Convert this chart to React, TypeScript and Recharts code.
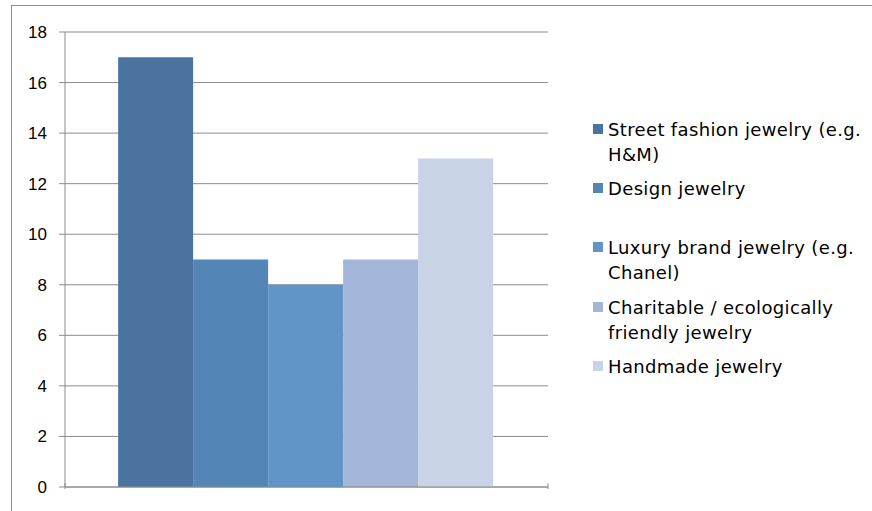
import React from 'react';
import { BarChart, Bar, XAxis, YAxis, CartesianGrid } from 'recharts';

const categories = ['Jewelry'];
const seriesNames = [
  'Street fashion jewelry (e.g. H&M)',
  'Design jewelry',
  'Luxury brand jewelry (e.g. Chanel)',
  'Charitable / ecologically friendly jewelry',
  'Handmade jewelry',
];
const seriesValues = [17, 9, 8, 9, 13];
const legendLines = [
  ['Street fashion jewelry (e.g.', 'H&M)'],
  ['Design jewelry'],
  ['Luxury brand jewelry (e.g.', 'Chanel)'],
  ['Charitable / ecologically', 'friendly jewelry'],
  ['Handmade jewelry'],
];
const yTicks = [0, 2, 4, 6, 8, 10, 12, 14, 16, 18];
const colors = ['#4A739F', '#5385B6', '#6195C9', '#A3B6D8', '#C8D3E5'];
const legendTops = [119, 178, 237, 297, 356];

const data = categories.map((c) => {
  const row: any = { name: c };
  seriesNames.forEach((s, i) => {
    row['s' + i] = seriesValues[i];
  });
  return row;
});

const EdgeTick = (props: any) => {
  const { x, y, payload } = props;
  const off = payload && payload.offset ? payload.offset : 0;
  const y0 = y - 2;
  return (
    <g>
      <line x1={x - off} y1={y0 - 8} x2={x - off} y2={y0 - 2} stroke="#8C8C8C" />
      <line x1={x + off} y1={y0 - 8} x2={x + off} y2={y0 - 2} stroke="#8C8C8C" />
    </g>
  );
};

export default function App() {
  return (
    <div
      style={{
        position: 'absolute',
        left: 0,
        top: 0,
        width: 872,
        height: 511,
        overflow: 'hidden',
        background: '#fff',
      }}
    >
      <div
        style={{
          position: 'absolute',
          left: 11,
          top: 5,
          width: 1000,
          height: 700,
          border: '1px solid #8E8E8E',
          boxSizing: 'border-box',
        }}
      />
      <div style={{ position: 'absolute', left: 0, top: 0 }}>
        <BarChart
          width={872}
          height={511}
          data={data}
          margin={{ top: 32, right: 324, bottom: 0, left: 0 }}
          barCategoryGap="11%"
          barGap={0}
        >
          <CartesianGrid vertical={false} stroke="#8C8C8C" strokeWidth={1} />
          <XAxis
            dataKey="name"
            height={24}
            stroke="#8C8C8C"
            tickLine={false}
            tick={<EdgeTick />}
            tickMargin={0}
          />
          <YAxis
            width={65}
            domain={[0, 18]}
            ticks={yTicks}
            interval={0}
            tickSize={6}
            tickMargin={12}
            stroke="#8C8C8C"
            tick={{ fill: '#000', fontSize: 17, fontFamily: '"Liberation Sans", Arial, sans-serif' }}
          />
          {seriesNames.map((s, i) => (
            <Bar key={i} dataKey={'s' + i} name={s} fill={colors[i]} isAnimationActive={false} />
          ))}
        </BarChart>
      </div>
      {seriesNames.map((s, i) => (
        <div key={i} style={{ position: 'absolute', left: 593, top: legendTops[i] }}>
          <div
            style={{
              position: 'absolute',
              left: 0,
              top: 5,
              width: 10,
              height: 10,
              background: colors[i],
            }}
          />
          <div
            style={{
              position: 'absolute',
              left: 15,
              top: -2,
              whiteSpace: 'nowrap',
              fontFamily: '"DejaVu Sans", sans-serif',
              fontSize: 18,
              letterSpacing: 0.35,
              lineHeight: '25px',
              color: '#000',
            }}
          >
            {legendLines[i].map((l, j) => (
              <div key={j}>{l}</div>
            ))}
          </div>
        </div>
      ))}
    </div>
  );
}
